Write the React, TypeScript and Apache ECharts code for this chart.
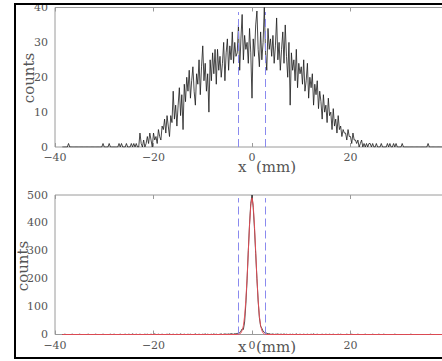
import React, { useEffect, useRef } from 'react';
import * as echarts from 'echarts';

const xStart = -38.5;
const binWidth = 0.25;
const xMin = -40;
const xMax = 40;
const xInterval = 20;
const cutLines = [-2.7, 2.7];

// top histogram (counts per 0.25 mm bin, from -38.5 mm)
const topOuterLeft = [
  0,0,0,0,0,1,0,0,0,0,
  0,0,0,0,0,0,0,0,0,0,
  0,0,0,0,0,0,0,0,0,0,
  0,0,0,1,0,0,0,0,1,0,
  0,0,0,0,0,0,1,0,1,0,
];
const topMain = [
  0,0,1,0, 0,0,1,0, 1,0,1,0, 0,4,1,0, 2,0,1,3,
  1,4,2,0, 4,2,3,1, 5,3,2,6, 5,8,4,9, 6,3,9,7,
  16,8,12,6, 12,17,9,15, 5,18,13,20, 16,22,14,19, 23,16,12,21,
  18,25,15,23, 29,19,24,16, 21,10,25,19, 27,21,28,18, 28,22,26,20,
  24,30,19,27, 31,22,29,25, 33,24,30,26, 27,35,22,31, 38,25,32,28,
  30,24,34,27, 14,31,26,35, 39,28,23,33, 25,30,40,27, 22,34,28,31,
  26,32,24,29, 37,25,30,22, 28,33,24,35, 26,20,30,12, 27,22,25,19,
  28,17,24,21, 23,18,25,16, 19,24,14,20, 17,21,12,18, 15,19,11,16,
  13,8,15,10, 12,7,14,9, 10,5,11,6, 8,4,9,5, 6,3,5,4,
  4,2,5,3, 3,1,4,2, 2,1,2,0, 1,2,0,1, 0,1,0,1,
  1,0,1,0, 0,1,0,0,
];
const topOuterRight = [
  0,1,0,0,0,0,1,0,1,0,
  0,1,0,1,0,0,0,0,1,0,
  0,0,0,0,0,0,0,0,0,0,
  0,0,0,0,0,0,0,0,0,1,
  0,0,0,0,0,0,0,0,0,0,
  0,0,0,0,0,0,0,
];
const topCounts = [...topOuterLeft, ...topMain, ...topOuterRight];

// bottom histogram (same bins)
const bottomCounts = [
  0,0,1,0,0,0,0,0,1,0, 0,0,0,0,1,0,0,0,0,0, 0,1,0,0,0,0,0,1,0,0, 0,0,0,1,0,0,0,0,0,1, 0,0,1,0,0,0,0,1,0,0,
  0,1,0,0,1,0,0,2,0,0, 1,0,0,1,0,0,0,1,0,1,
  0,0,1,0,0,2,0,0,1,0, 0,1,0,0,0,1,0,2,0,0,
  1,0,0,1,0,0,2,0,0,1, 0,0,1,0,1,0,0,0,2,0,
  0,1,0,0,1,0,2,0,1,0, 0,1,0,2,0,1,0,0,1,2,
  0,1,2,1,
  1,2,1,3,2,1,3,2,4,3, 6,12,20,18,45,110,195,300,395,470, 500,
  455,380,290,200,120,60,30,22,12,8, 4,5,2,3,1,1,2,0,1,1,
  2,0,1,1,0,2,0,1,0,0, 1,0,1,0,0,2,0,0,1,0,
  0,1,0,0,1,0,0,1,0,2, 0,0,1,0,0,0,1,0,0,1,
  0,0,1,0,0,1,0,0,0,1, 0,1,0,0,0,0,1,0,0,0,
  1,0,0,0,0,1,0,0,0,0, 0,1,0,0,0,0,0,1,0,0,
  0,0,1,
  0,0,0,1,0,0,0,0,0,0, 0,0,1,0,0,0,0,0,0,0, 0,0,0,0,0,1,0,0,0,0, 0,0,0,0,0,0,0,0,0,0, 0,1,0,0,0,0,0,0,0,0, 0,0,0,0,1,0,0,
];

// gaussian fit (red), read at 0.25 mm steps from -3.25 mm
const fitStart = -3.25;
const fitValues = [0,0.2,0.6,1.9,5.4,14,32,66,122,201,297,392,463,490,463,392,297,201,122,66,32,14,5.4,1.9,0.6,0.2,0];

const fmt = (v: number) => (v < 0 ? '\u2212' + Math.abs(v) : String(v));

export default function App() {
  const ref = useRef<HTMLDivElement>(null);
  useEffect(() => {
    if (!ref.current) return;
    const chart = echarts.init(ref.current, null, { renderer: 'svg' });
    const toPts = (arr: number[]) => arr.map((v, i) => [xStart + i * binWidth, v]);
    const fitPts = [[xStart, 0], ...fitValues.map((v, i) => [fitStart + i * binWidth, v]), [xMax, 0]];
    const font = 'DejaVu Serif';
    const axisGray = '#9a9a9a';
    const labelColor = '#555';
    const xAxisBase = (gi: number) => ({
      type: 'value', gridIndex: gi, min: xMin, max: xMax, interval: xInterval,
      axisLine: { show: false },
      axisTick: { show: true, inside: true, length: 4, lineStyle: { color: axisGray } },
      axisLabel: { formatter: fmt, fontFamily: font, fontSize: 11, color: labelColor, margin: 5, showMaxLabel: false },
      splitLine: { show: false },
    });
    const xAxisTop = (gi: number) => ({
      type: 'value', gridIndex: gi, position: 'top', min: xMin, max: xMax, interval: xInterval,
      axisLine: { show: false },
      axisTick: { show: true, inside: true, length: 4, lineStyle: { color: axisGray } },
      axisLabel: { show: false }, splitLine: { show: false },
    });
    const yAxisBase = (gi: number, max: number, interval: number) => ({
      type: 'value', gridIndex: gi, min: 0, max, interval,
      axisLine: { show: false }, axisTick: { show: false },
      axisLabel: { fontFamily: font, fontSize: 11, color: labelColor, margin: 7 },
      splitLine: { show: false },
    });
    const dash = (top: number) => ({
      silent: true, symbol: ['none', 'none'], label: { show: false },
      lineStyle: { color: '#8a8aee', width: 1, type: [8, 4] },
      data: cutLines.map((c) => [{ coord: [c, 0] }, { coord: [c, top] }]),
    });
    const frameStyle = { stroke: '#000', lineWidth: 2 };
    chart.setOption({
      animation: false,
      grid: [
        { left: 55, top: 7.5, width: 394, height: 139.5, show: true, borderColor: axisGray, borderWidth: 1, outerBoundsMode: 'none', containLabel: false },
        { left: 55, top: 195, width: 394, height: 139.5, show: true, borderColor: axisGray, borderWidth: 1, outerBoundsMode: 'none', containLabel: false },
      ],
      xAxis: [xAxisBase(0), xAxisTop(0), xAxisBase(1), xAxisTop(1)],
      yAxis: [yAxisBase(0, 40, 10), yAxisBase(1, 500, 100)],
      series: [
        {
          type: 'line', xAxisIndex: 0, yAxisIndex: 0, data: toPts(topCounts), showSymbol: false,
          lineStyle: { color: '#1a1a1a', width: 0.8 }, markLine: dash(38.7),
        },
        {
          type: 'line', xAxisIndex: 2, yAxisIndex: 1, data: toPts(bottomCounts), showSymbol: false,
          lineStyle: { color: '#1a1a1a', width: 0.8 }, markLine: dash(489),
        },
        {
          type: 'line', xAxisIndex: 2, yAxisIndex: 1, data: fitPts, showSymbol: false,
          lineStyle: { color: '#ec4b55', width: 0.9 }, z: 5,
        },
      ],
      graphic: [
        { type: 'text', x: 29, y: 78, rotation: Math.PI / 2, style: { text: 'counts', font: '15px "DejaVu Serif"', fill: '#555', align: 'center', verticalAlign: 'middle' } },
        { type: 'text', x: 22.5, y: 266, rotation: Math.PI / 2, style: { text: 'counts', font: '15px "DejaVu Serif"', fill: '#555', align: 'center', verticalAlign: 'middle' } },
        { type: 'text', x: 267, y: 167, style: { text: 'x  (mm)', font: '15px "DejaVu Serif"', fill: '#555', align: 'center', verticalAlign: 'middle' } },
        { type: 'text', x: 267, y: 347, style: { text: 'x  (mm)', font: '15px "DejaVu Serif"', fill: '#555', align: 'center', verticalAlign: 'middle' } },
        { type: 'line', z: 100, shape: { x1: 15, y1: 3, x2: 15, y2: 359 }, style: frameStyle },
        { type: 'line', z: 100, shape: { x1: 14, y1: 4, x2: 450, y2: 4 }, style: frameStyle },
        { type: 'line', z: 100, shape: { x1: 14, y1: 358, x2: 450, y2: 358 }, style: frameStyle },
      ],
    });
    return () => chart.dispose();
  }, []);
  return <div ref={ref} style={{ position: 'absolute', left: 0, top: 0, width: 442, height: 361 }} />;
}
